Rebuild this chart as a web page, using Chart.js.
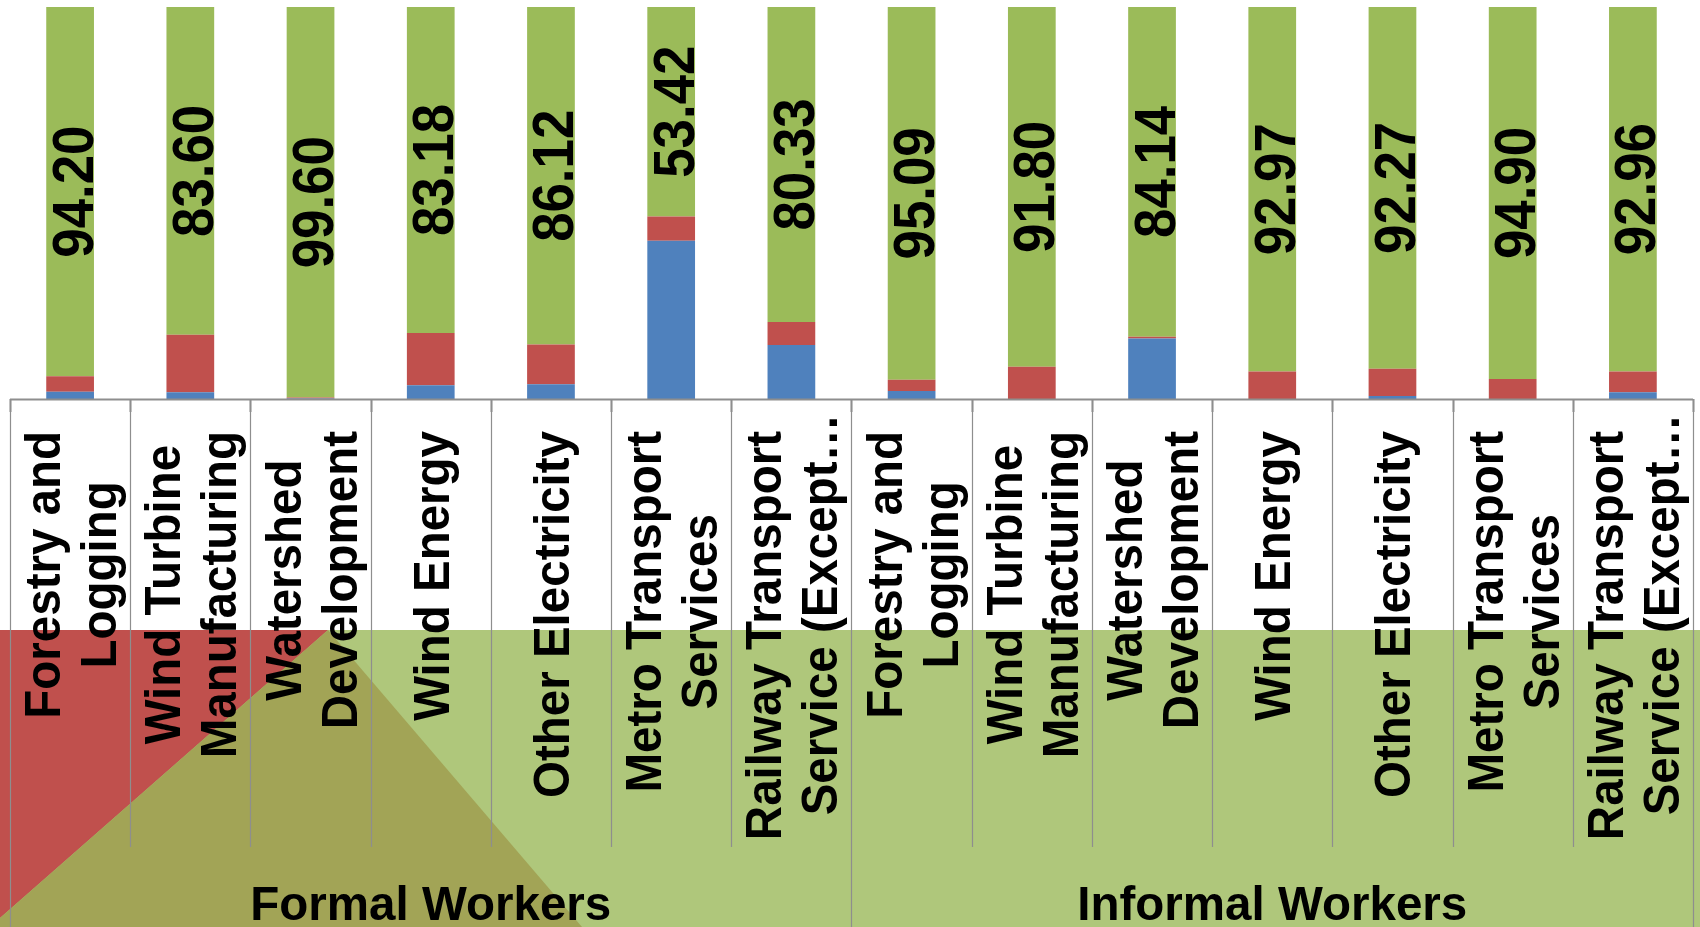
<!DOCTYPE html>
<html>
<head>
<meta charset="utf-8">
<script src="https://cdn.jsdelivr.net/npm/chart.js@4/dist/chart.umd.min.js"></script>
<style>
  html,body{margin:0;padding:0;background:#fff;overflow:hidden;}
  canvas{display:block;}
</style>
</head>
<body>
<canvas id="c" width="1700" height="927"></canvas>
<script>
// categories (two groups of the same seven sectors)
const sectors = [
  ['Forestry and','Logging'],
  ['Wind Turbine','Manufacturing'],
  ['Watershed','Development'],
  ['Wind Energy'],
  ['Other Electricity'],
  ['Metro Transport','Services'],
  ['Railway Transport','Service (Except\u2026']
];
const categories = [...sectors, ...sectors];
const groups = ['Formal Workers','Informal Workers'];

// shares (%), bottom to top
const blueVals  = [1.86, 1.71, 0.10, 3.50, 3.75, 40.34, 13.79, 2.04, 0.00, 15.46, 0.00, 0.77, 0.00, 1.71];
const redVals   = [3.94, 14.69, 0.30, 13.32, 10.13, 6.24, 5.88, 2.87, 8.20, 0.40, 7.03, 6.96, 5.10, 5.33];
const greenVals = [94.20, 83.60, 99.60, 83.18, 86.12, 53.42, 80.33, 95.09, 91.80, 84.14, 92.97, 92.27, 94.90, 92.96];

const FONT = '"Liberation Sans", Arial, sans-serif';
const GRID = '#8e8e8e';

// background shapes under the label area, value labels, category + group labels
const decor = {
  id:'decor',
  beforeDraw(chart){
    const ctx = chart.ctx, W = chart.width, H = chart.height;
    const top = 630;
    ctx.save();
    ctx.fillStyle = '#afc77b';
    ctx.fillRect(0, top, W, H - top);
    ctx.fillStyle = '#c0504d';
    ctx.beginPath(); ctx.moveTo(0, top); ctx.lineTo(328, top); ctx.lineTo(0, 918); ctx.closePath(); ctx.fill();
    ctx.fillStyle = '#a2a456';
    ctx.beginPath(); ctx.moveTo(328, top); ctx.lineTo(0, 918); ctx.lineTo(0, H); ctx.lineTo(582, H); ctx.closePath(); ctx.fill();
    ctx.restore();
  },
  afterDatasetsDraw(chart){
    const ctx = chart.ctx, xs = chart.scales.x, area = chart.chartArea, H = chart.height;
    ctx.save();

    // value labels in the green segments
    const meta = chart.getDatasetMeta(2);
    ctx.fillStyle = '#000';
    ctx.font = 'bold 58px ' + FONT;
    ctx.textAlign = 'center';
    ctx.textBaseline = 'alphabetic';
    meta.data.forEach((el, i) => {
      const cy = (el.y + el.base) / 2;
      ctx.save();
      ctx.translate(el.x + 2, cy);
      ctx.rotate(-Math.PI / 2);
      ctx.scale(0.91, 1);
      ctx.fillText(greenVals[i].toFixed(2), 0, 20.5);
      ctx.restore();
    });

    // axis line, separators, tick marks
    const half = (xs.getPixelForValue(1) - xs.getPixelForValue(0)) / 2;
    const n = categories.length;
    ctx.strokeStyle = GRID;
    ctx.lineWidth = 1.2;
    for (let i = 0; i <= n; i++) {
      const x = Math.round(xs.getPixelForValue(i) - half) + 0.5;
      const full = (i % 7 === 0);
      ctx.beginPath(); ctx.moveTo(x, area.bottom); ctx.lineTo(x, full ? H : 847); ctx.stroke();
      ctx.beginPath(); ctx.lineWidth = 2; ctx.moveTo(x, area.bottom); ctx.lineTo(x, area.bottom + 13); ctx.stroke();
      ctx.lineWidth = 1.2;
    }
    ctx.lineWidth = 2;
    ctx.beginPath(); ctx.moveTo(xs.getPixelForValue(0) - half, area.bottom + 0.5); ctx.lineTo(xs.getPixelForValue(n - 1) + half, area.bottom + 0.5); ctx.stroke();

    // category labels, rotated, lines centred on each other
    ctx.fillStyle = '#000';
    ctx.font = 'bold 50px ' + FONT;
    const sx = 0.95, labelTop = 431, lh = 56;
    categories.forEach((lines, i) => {
      const cx = xs.getPixelForValue(i);
      const lens = lines.map(t => ctx.measureText(t).width * sx);
      const L = Math.max(...lens);
      lines.forEach((t, j) => {
        const base = cx + (j - (lines.length - 1) / 2) * lh + 18;
        let cy = labelTop + L / 2;
        if (t.endsWith('\u2026')) cy = labelTop - 17 + lens[j] / 2;
        ctx.save();
        ctx.translate(base, cy);
        ctx.rotate(-Math.PI / 2);
        ctx.scale(sx, 1);
        ctx.textAlign = 'center';
        ctx.fillText(t, 0, 0);
        ctx.restore();
      });
    });

    // group labels
    ctx.font = 'bold 49px ' + FONT;
    groups.forEach((g, k) => {
      const x0 = xs.getPixelForValue(k * 7) - half, x1 = xs.getPixelForValue(k * 7 + 6) + half;
      ctx.save();
      ctx.translate((x0 + x1) / 2, 920);
      ctx.scale(0.97, 1);
      ctx.textAlign = 'center';
      ctx.fillText(g, 0, 0);
      ctx.restore();
    });
    ctx.restore();
  }
};

new Chart(document.getElementById('c'), {
  type:'bar',
  data:{
    labels:categories,
    datasets:[
      {label:'Series 1', data:blueVals,  backgroundColor:'#4f81bd', borderWidth:0},
      {label:'Series 2', data:redVals,   backgroundColor:'#c0504d', borderWidth:0},
      {label:'Series 3', data:greenVals, backgroundColor:'#9bbb59', borderWidth:0}
    ]
  },
  options:{
    responsive:false,
    animation:false,
    devicePixelRatio:1,
    layout:{padding:{left:10, right:7, top:7, bottom:528}},
    datasets:{bar:{categoryPercentage:1, barPercentage:0.397}},
    scales:{
      x:{stacked:true, display:false},
      y:{stacked:true, display:false, min:0, max:100}
    },
    plugins:{legend:{display:false}, tooltip:{enabled:false}}
  },
  plugins:[decor]
});
</script>
</body>
</html>
